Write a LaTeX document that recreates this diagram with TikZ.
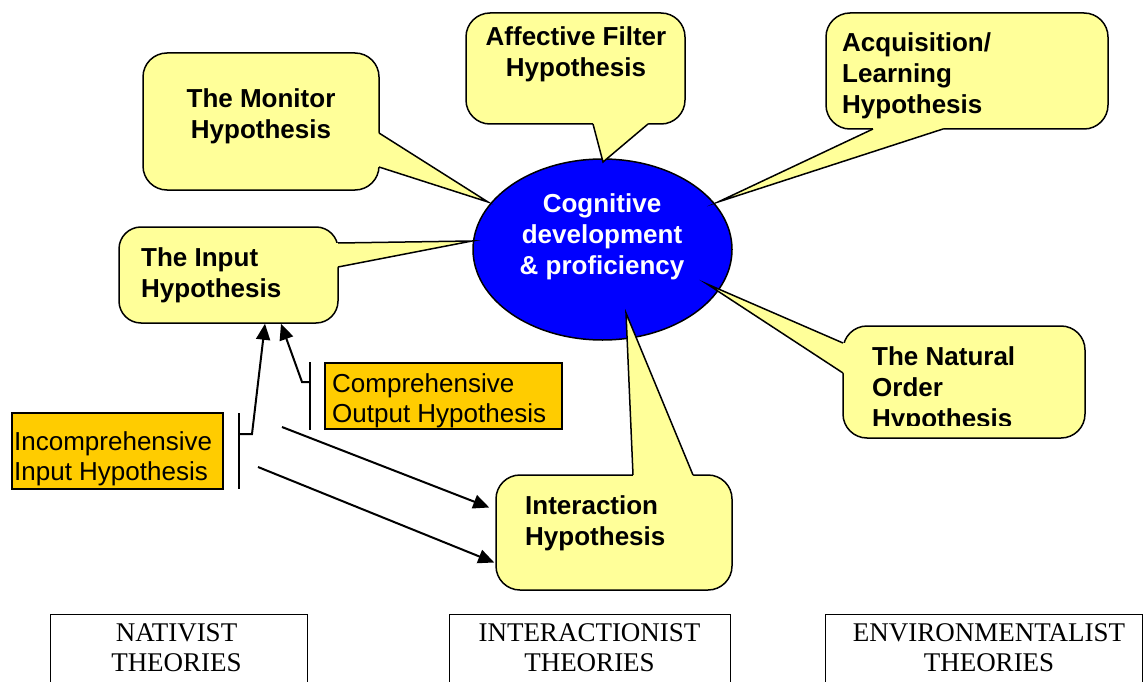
\documentclass[tikz,border=0pt]{standalone}
\usepackage{fontspec}
\setmainfont{Liberation Sans}
\newfontfamily\theoryfont{Liberation Serif}
\usetikzlibrary{shapes.geometric,arrows.meta,calc}

\definecolor{calloutyellow}{HTML}{FFFF99}
\definecolor{hypoorange}{HTML}{FFCC00}
\definecolor{coreblue}{HTML}{0000FF}

\tikzset{
  callout/.style={draw=black, fill=calloutyellow, line width=1.5pt,
    rounded corners=24pt, inner sep=0pt},
  calltext/.style={inner sep=0pt, font=\fontsize{26}{31}\selectfont\bfseries},
  hypobox/.style={draw=black, fill=hypoorange, line width=2pt, inner sep=0pt},
  hypotext/.style={inner sep=0pt, align=left, font=\fontsize{26}{30}\selectfont},
  theorybox/.style={draw=black, line width=1pt, inner sep=0pt},
  theorytext/.style={inner sep=0pt, align=center, font=\theoryfont\fontsize{27}{30}\selectfont},
  linkline/.style={line width=2pt},
  linkarrow/.style={line width=2pt, -{Triangle[length=16pt,width=14pt]}},
}

% tail of a speech bubble: base point, tip, base point, shift into the box
\newcommand\calltail[4]{%
  \fill[calloutyellow] ($#1+#4$) -- #1 -- #2 -- #3 -- ($#3+#4$) -- cycle;
  \draw[line width=1.5pt, miter limit=25] #1 -- #2 -- #3;}

\begin{document}
\begin{tikzpicture}[x=1pt,y=-1pt]
\useasboundingbox (0,0) rectangle (1145,682);
\clip (0,0) rectangle (1145,682);

% central ellipse
\node[ellipse, draw=black, fill=coreblue, line width=1.5pt, inner sep=0pt,
      minimum width=259pt, minimum height=181pt] (core) at (602.5,249.5) {};
\node[calltext, align=center, text=white, anchor=north] (coreT) at (602,193)
  {Cognitive\\development\\\& proficiency};

% speech bubbles around the ellipse
\node[callout, minimum width=236pt, minimum height=137pt] (monitor) at (261,121.5) {};
\calltail{(379,133)}{(488,202)}{(379,167)}{(-3,0)}
\node[calltext, align=center, anchor=north] (monitorT) at (261,88) {The Monitor\\Hypothesis};

\node[callout, minimum width=219pt, minimum height=111pt] (affect) at (575.5,68.5) {};
\calltail{(593,124)}{(603,162)}{(648,124)}{(0,-3)}
\node[calltext, align=center, anchor=north] (affectT) at (576,26) {Affective Filter\\Hypothesis};

\node[callout, minimum width=282pt, minimum height=116pt] (acq) at (967,71) {};
\calltail{(873,129)}{(718,202)}{(943,129)}{(0,-3)}
\node[calltext, align=left, anchor=north west] (acqT) at (842,32) {Acquisition/\\Learning\\Hypothesis};

\node[callout, rounded corners=22pt, minimum width=219pt, minimum height=96pt] (input) at (228.5,275) {};
\calltail{(338,243)}{(472,241)}{(338,267)}{(-3,0)}
\node[calltext, align=left, anchor=north west] (inputT) at (141,247) {The Input\\Hypothesis};

\node[callout, minimum width=242pt, minimum height=112pt] (natural) at (964,382) {};
\calltail{(843,343)}{(707,284)}{(843,373)}{(3,0)}
\begin{scope}
  \clip (843,326) rectangle (1085,425);
  \node[calltext, align=left, anchor=north west] (naturalT) at (872,346) {The Natural\\Order\\Hypothesis};
\end{scope}

\node[callout, minimum width=236pt, minimum height=115pt] (inter) at (614,532.5) {};
\calltail{(633,475)}{(626,313)}{(693,475)}{(0,3)}
\node[calltext, align=left, anchor=north west] (interT) at (525,495) {Interaction\\Hypothesis};

% orange hypothesis boxes
\node[hypobox, minimum width=211pt, minimum height=76pt] (incomp) at (117.5,451) {};
\node[hypotext, anchor=north west] (incompT) at (14,431) {Incomprehensive\\Input Hypothesis};
\node[hypobox, minimum width=237pt, minimum height=66pt] (comp) at (443.5,396) {};
\node[hypotext, anchor=north west] (compT) at (332,373) {Comprehensive\\Output Hypothesis};

% brackets and arrows
\coordinate (incBarTop) at (239,413);
\coordinate (incBarBot) at (239,489);
\coordinate (incJoin) at (239,434);
\coordinate (compBarTop) at (310,362);
\coordinate (compBarBot) at (310,430);
\coordinate (compJoin) at (310,382);
\draw[linkline] (incBarTop) -- (incBarBot);
\draw[linkline] (compBarTop) -- (compBarBot);
\draw[linkarrow] (incJoin) -- ++(13,0) -- ($(input.south)+(36.5,0)$);
\draw[linkarrow] (compJoin) -- ++(-8,0) -- ($(input.south)+(52.5,0)$);
\coordinate (linkA) at (282,427);
\coordinate (linkB) at (258,467);
\draw[linkarrow] (linkA) -- ($(inter.west)+(-6,-25)$);
\draw[linkarrow] (linkB) -- ($(inter.west)+(-1,30)$);

% theory headings along the bottom
\node[theorybox, minimum width=257pt, minimum height=100pt] (nativist) at (178.5,664) {};
\node[theorytext, anchor=north] (nativistT) at (176.5,623) {NATIVIST\\THEORIES};
\node[theorybox, minimum width=281pt, minimum height=100pt] (interactionist) at (589.5,664) {};
\node[theorytext, anchor=north] (interactionistT) at (589.5,623) {INTERACTIONIST\\THEORIES};
\node[theorybox, minimum width=317pt, minimum height=100pt] (environ) at (984,664) {};
\node[theorytext, anchor=north] (environT) at (989,623) {ENVIRONMENTALIST\\THEORIES};
\end{tikzpicture}
\end{document}
